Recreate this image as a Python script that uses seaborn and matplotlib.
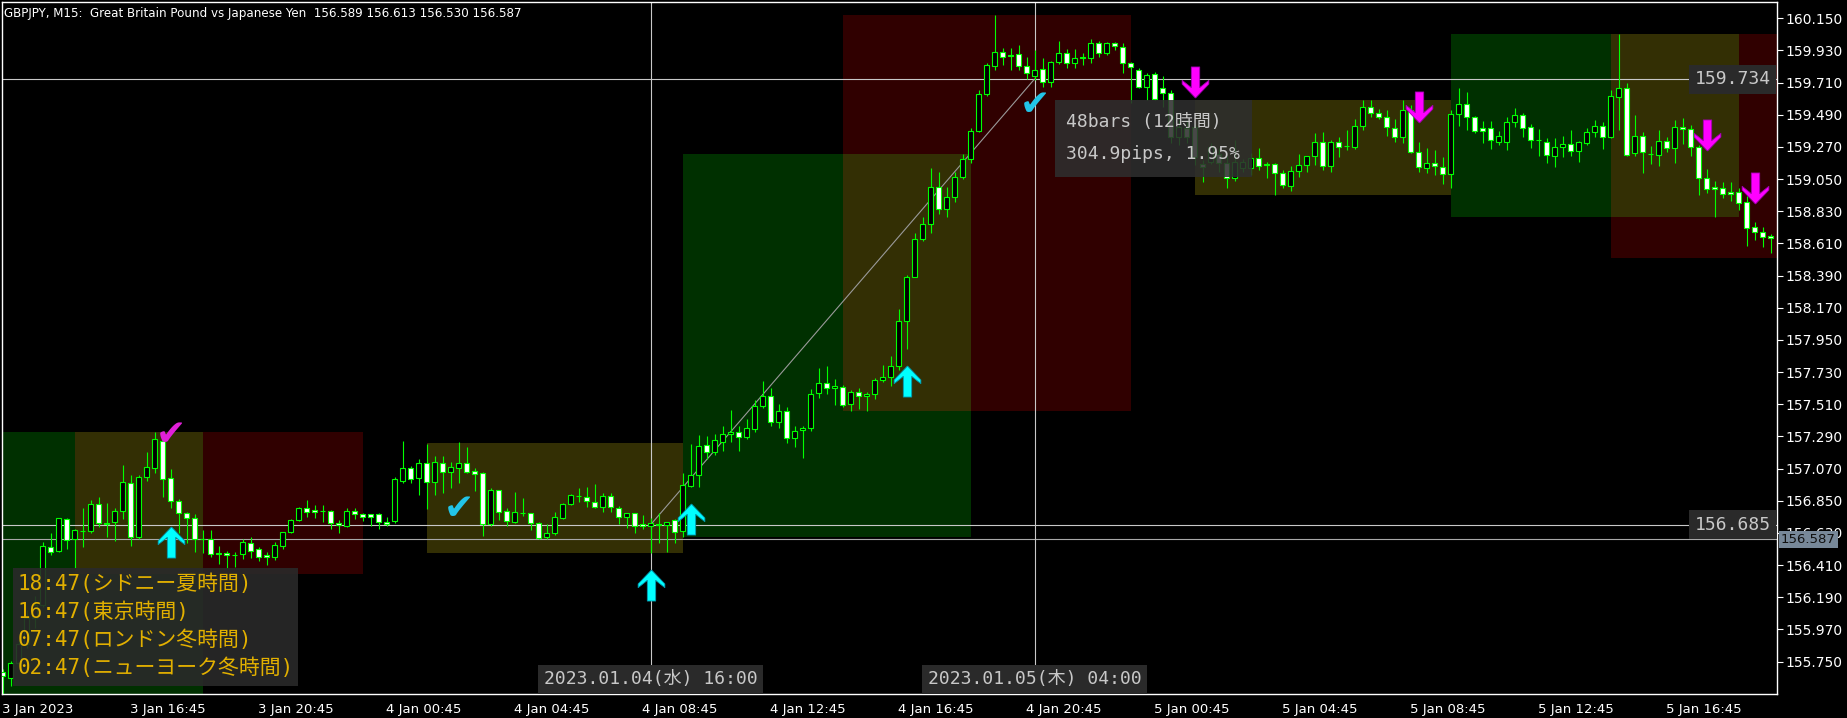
import numpy as np
import pandas as pd
import matplotlib
matplotlib.use('Agg')
import matplotlib.pyplot as plt
import seaborn as sns
from matplotlib.patches import Rectangle
from matplotlib.path import Path
import matplotlib.transforms as mtransforms

# GBPJPY M15, bars 0..221 (3 Jan 12:45 -> 5 Jan 20:00 server time)
opens = [155.68, 155.635, 155.74, 155.87, 156.05, 156.14, 156.536, 156.508, 156.723, 156.588,
         156.64, 156.643, 156.825, 156.70, 156.702, 156.78, 156.969, 156.604, 157.014, 157.071,
         157.261, 157.003, 156.848, 156.764, 156.73, 156.588, 156.586, 156.49, 156.49, 156.478,
         156.483, 156.563, 156.517, 156.479, 156.463, 156.542, 156.634, 156.718, 156.798, 156.787,
         156.78, 156.78, 156.695, 156.677, 156.78, 156.759, 156.757, 156.757, 156.707, 156.713,
         156.987, 157.071, 157.003, 157.106, 156.98, 157.11, 157.049, 157.071, 157.106, 157.053,
         157.037, 156.689, 156.923, 156.78, 156.707, 156.768, 156.764, 156.695, 156.604, 156.627,
         156.734, 156.825, 156.882, 156.878, 156.843, 156.809, 156.885, 156.802, 156.741, 156.764,
         156.689, 156.677, 156.689, 156.684, 156.718, 156.643, 156.953, 157.026, 157.231, 157.181,
         157.254, 157.304, 157.317, 157.283, 157.338, 157.50, 157.568, 157.386, 157.466, 157.276,
         157.333, 157.345, 157.584, 157.657, 157.618, 157.63, 157.509, 157.596, 157.566, 157.58,
         157.675, 157.694, 157.773, 158.081, 158.382, 158.638, 158.74, 158.998, 158.843, 158.929,
         159.066, 159.19, 159.381, 159.63, 159.826, 159.917, 159.90, 159.903, 159.826, 159.757,
         159.80, 159.712, 159.849, 159.91, 159.842, 159.883, 159.876, 159.979, 159.91, 159.979,
         159.956, 159.842, 159.796, 159.678, 159.769, 159.671, 159.637, 159.34, 159.397, 159.409,
         159.15, 159.169, 159.22, 159.158, 159.055, 159.123, 159.123, 159.192, 159.151, 159.151,
         159.089, 159.005, 159.107, 159.146, 159.208, 159.301, 159.142, 159.306, 159.276, 159.272,
         159.415, 159.545, 159.504, 159.477, 159.402, 159.34, 159.522, 159.237, 159.123, 159.162,
         159.135, 159.085, 159.493, 159.561, 159.472, 159.397, 159.397, 159.301, 159.301, 159.438,
         159.488, 159.404, 159.317, 159.306, 159.208, 159.267, 159.288, 159.242, 159.294, 159.37,
         159.415, 159.335, 159.614, 159.671, 159.226, 159.347, 159.222, 159.215, 159.313, 159.26,
         159.404, 159.39, 159.267, 159.055, 158.993, 158.987, 158.959, 158.964, 158.891, 158.72,
         158.686, 158.658]
highs = [155.70, 155.756, 155.90, 156.10, 156.20, 156.565, 156.627, 156.735, 156.735, 156.66,
         156.798, 156.855, 156.873, 156.832, 156.798, 157.094, 157.026, 157.026, 157.186, 157.318,
         157.277, 157.065, 156.859, 156.775, 156.757, 156.65, 156.65, 156.54, 156.506, 156.50,
         156.588, 156.604, 156.536, 156.50, 156.57, 156.638, 156.727, 156.805, 156.855, 156.82,
         156.82, 156.787, 156.718, 156.798, 156.798, 156.768, 156.757, 156.765, 156.74, 157.01,
         157.258, 157.087, 157.133, 157.238, 157.156, 157.156, 157.117, 157.254, 157.22, 157.071,
         157.049, 156.935, 156.923, 156.798, 156.912, 156.866, 156.766, 156.707, 156.689, 156.775,
         156.832, 156.896, 156.935, 156.946, 156.964, 156.90, 156.90, 156.814, 156.768, 156.766,
         156.752, 156.729, 156.768, 156.707, 156.723, 157.037, 157.24, 157.30, 157.292, 157.306,
         157.361, 157.47, 157.361, 157.406, 157.539, 157.668, 157.618, 157.509, 157.488, 157.361,
         157.361, 157.611, 157.755, 157.773, 157.68, 157.641, 157.607, 157.618, 157.596, 157.687,
         157.778, 157.84, 158.159, 158.393, 158.679, 158.788, 159.123, 159.096, 158.998, 159.10,
         159.221, 159.40, 159.66, 159.842, 160.172, 159.944, 159.944, 159.967, 159.887, 159.933,
         159.876, 159.858, 159.995, 159.94, 159.94, 159.91, 160.006, 159.995, 159.99, 159.99,
         159.983, 159.853, 159.808, 159.773, 159.785, 159.755, 159.66, 159.454, 159.454, 159.43,
         159.18, 159.30, 159.26, 159.21, 159.317, 159.19, 159.226, 159.265, 159.169, 159.158,
         159.112, 159.142, 159.221, 159.208, 159.367, 159.374, 159.317, 159.34, 159.386, 159.461,
         159.591, 159.591, 159.527, 159.522, 159.458, 159.591, 159.557, 159.306, 159.26, 159.249,
         159.199, 159.522, 159.671, 159.648, 159.481, 159.447, 159.447, 159.379, 159.477, 159.538,
         159.504, 159.424, 159.392, 159.329, 159.329, 159.345, 159.386, 159.313, 159.402, 159.454,
         159.438, 159.659, 160.042, 159.705, 159.488, 159.37, 159.276, 159.386, 159.34, 159.454,
         159.47, 159.42, 159.283, 159.119, 159.039, 159.032, 159.028, 158.987, 158.934, 158.759,
         158.724, 158.674]
lows = [155.53, 155.585, 155.72, 155.84, 155.98, 156.12, 156.479, 156.50, 156.517, 156.387,
        156.535, 156.63, 156.672, 156.604, 156.577, 156.725, 156.54, 156.59, 156.985, 157.037,
        156.878, 156.798, 156.627, 156.558, 156.497, 156.49, 156.467, 156.417, 156.387, 156.398,
        156.449, 156.456, 156.438, 156.41, 156.445, 156.517, 156.627, 156.71, 156.741, 156.734,
        156.702, 156.66, 156.632, 156.672, 156.723, 156.713, 156.677, 156.66, 156.68, 156.695,
        156.973, 156.969, 156.889, 156.791, 156.889, 156.905, 156.935, 156.969, 157.037, 156.919,
        156.611, 156.68, 156.718, 156.677, 156.70, 156.745, 156.65, 156.586, 156.586, 156.616,
        156.725, 156.82, 156.839, 156.805, 156.803, 156.775, 156.771, 156.689, 156.661, 156.627,
        156.66, 156.49, 156.558, 156.502, 156.558, 156.604, 156.946, 156.946, 157.133, 157.163,
        157.192, 157.254, 157.192, 157.27, 157.322, 157.482, 157.363, 157.345, 157.242, 157.215,
        157.14, 157.33, 157.55, 157.58, 157.504, 157.493, 157.466, 157.475, 157.466, 157.543,
        157.66, 157.634, 157.744, 157.887, 158.378, 158.628, 158.679, 158.811, 158.788, 158.895,
        159.05, 159.16, 159.374, 159.62, 159.796, 159.83, 159.796, 159.796, 159.732, 159.728,
        159.678, 159.678, 159.835, 159.812, 159.807, 159.83, 159.842, 159.883, 159.899, 159.933,
        159.778, 159.568, 159.671, 159.591, 159.591, 159.545, 159.30, 159.283, 159.30, 159.147,
        159.03, 159.15, 159.10, 158.987, 159.04, 159.10, 159.078, 159.112, 159.055, 158.941,
        158.99, 158.97, 159.066, 159.10, 159.146, 159.112, 159.10, 159.203, 159.249, 159.256,
        159.386, 159.477, 159.458, 159.347, 159.306, 159.299, 159.226, 159.10, 159.089, 159.078,
        159.014, 158.987, 159.415, 159.386, 159.363, 159.294, 159.253, 159.283, 159.249, 159.404,
        159.335, 159.26, 159.208, 159.162, 159.13, 159.203, 159.208, 159.169, 159.283, 159.34,
        159.253, 159.328, 159.386, 159.208, 159.21, 159.094, 159.151, 159.14, 159.237, 159.162,
        159.288, 159.208, 158.941, 158.957, 158.793, 158.918, 158.902, 158.838, 158.595, 158.633,
        158.583, 158.542]
closes = [155.65, 155.742, 155.87, 156.05, 156.14, 156.54, 156.50, 156.73, 156.581, 156.65,
          156.645, 156.825, 156.695, 156.688, 156.78, 156.976, 156.604, 157.014, 157.078, 157.27,
          156.996, 156.848, 156.764, 156.73, 156.588, 156.585, 156.483, 156.488, 156.479, 156.476,
          156.565, 156.508, 156.467, 156.463, 156.547, 156.634, 156.718, 156.798, 156.771, 156.771,
          156.778, 156.695, 156.684, 156.78, 156.757, 156.741, 156.741, 156.707, 156.69, 156.996,
          157.071, 156.996, 157.106, 156.98, 157.117, 157.049, 157.078, 157.106, 157.049, 157.03,
          156.689, 156.923, 156.771, 156.711, 156.771, 156.766, 156.695, 156.597, 156.627, 156.741,
          156.825, 156.887, 156.880, 156.848, 156.805, 156.885, 156.805, 156.741, 156.764, 156.677,
          156.677, 156.695, 156.687, 156.707, 156.634, 156.955, 157.026, 157.224, 157.181, 157.265,
          157.304, 157.317, 157.283, 157.345, 157.50, 157.568, 157.386, 157.466, 157.281, 157.329,
          157.345, 157.577, 157.657, 157.618, 157.634, 157.504, 157.596, 157.566, 157.577, 157.675,
          157.694, 157.773, 158.081, 158.382, 158.638, 158.74, 158.998, 158.843, 158.929, 159.066,
          159.185, 159.381, 159.63, 159.83, 159.917, 159.883, 159.892, 159.826, 159.773, 159.794,
          159.712, 159.849, 159.91, 159.842, 159.876, 159.881, 159.979, 159.91, 159.979, 159.963,
          159.846, 159.815, 159.678, 159.762, 159.598, 159.637, 159.34, 159.409, 159.34, 159.204,
          159.13, 159.272, 159.16, 159.055, 159.169, 159.169, 159.192, 159.142, 159.149, 159.089,
          159.01, 159.105, 159.146, 159.208, 159.301, 159.142, 159.301, 159.272, 159.274, 159.415,
          159.545, 159.50, 159.472, 159.404, 159.34, 159.522, 159.237, 159.135, 159.162, 159.14,
          159.085, 159.493, 159.561, 159.472, 159.379, 159.379, 159.317, 159.345, 159.438, 159.488,
          159.397, 159.317, 159.315, 159.215, 159.267, 159.288, 159.242, 159.301, 159.37, 159.415,
          159.335, 159.62, 159.671, 159.215, 159.347, 159.233, 159.220, 159.313, 159.26, 159.404,
          159.39, 159.267, 159.055, 158.98, 158.98, 158.948, 158.948, 158.884, 158.713, 158.686,
          158.656, 158.645]

# session boxes (start bar, end bar, high, low)
green_sess = [(-11, 25, 157.318, 155.50), (85, 121, 159.221, 156.604), (181, 217, 160.042, 158.793)]
red_sess = [(9, 45, 157.318, 156.351), (105, 141, 160.172, 157.466), (201, 237, 160.042, 158.51)]
yellow_sess = [(53, 85, 157.245, 156.49), (149, 181, 159.591, 158.941)]

# signal arrows (bar, price at arrow centre)
up_bars = [21, 81, 86, 113]
up_prices = [156.571, 156.274, 156.725, 157.672]
down_bars = [149, 177, 213, 219]
down_prices = [159.711, 159.54, 159.349, 158.986]
check_bars = [57, 129, 21]
check_prices = [156.794, 159.557, 157.30]
check_cols = ['#22c4e8', '#22c4e8', '#e020d8']

# crosshair / measurement
cross_bars = [81, 129]
cross_prices = [156.685, 159.734]
cross_time_labels = ['2023.01.04(水) 16:00', '2023.01.05(木) 04:00']
bid_price = 156.587

price_ticks = [155.750, 155.970, 156.190, 156.410, 156.630, 156.850, 157.070, 157.290, 157.510,
               157.730, 157.950, 158.170, 158.390, 158.610, 158.830, 159.050, 159.270, 159.490,
               159.710, 159.930, 160.150]
time_tick_bars = [0, 16, 32, 48, 64, 80, 96, 112, 128, 144, 160, 176, 192, 208]
time_tick_labels = ['3 Jan 2023', '3 Jan 16:45', '3 Jan 20:45', '4 Jan 00:45', '4 Jan 04:45',
                    '4 Jan 08:45', '4 Jan 12:45', '4 Jan 16:45', '4 Jan 20:45', '5 Jan 00:45',
                    '5 Jan 04:45', '5 Jan 08:45', '5 Jan 12:45', '5 Jan 16:45']
session_lines = ['18:47(シドニー夏時間)', '16:47(東京時間)', '07:47(ロンドン冬時間)', '02:47(ニューヨーク冬時間)']
measure_lines = ['48bars (12時間)', '304.9pips, 1.95%']
title = 'GBPJPY, M15:  Great Britain Pound vs Japanese Yen  156.589 156.613 156.530 156.587'

df = pd.DataFrame({'open': opens, 'high': highs, 'low': lows, 'close': closes})
df['bar'] = np.arange(len(df))

sns.set_theme(style='dark', rc={'axes.facecolor': 'black', 'figure.facecolor': 'black',
                                'axes.edgecolor': 'white', 'axes.grid': False})
narrow = ['Liberation Sans Narrow', 'DejaVu Sans']
mono = ['DejaVu Sans Mono', 'Noto Sans CJK JP']
plt.rcParams['font.family'] = ['DejaVu Sans', 'Noto Sans CJK JP']

W, H = 1847, 718
AX_L, AX_R, AX_T, AX_B = 1.5, 1777.0, 1.5, 693.5
fig = plt.figure(figsize=(W / 100, H / 100), dpi=100)
ax = fig.add_axes([AX_L / W, (H - AX_B) / H, (AX_R - AX_L) / W, (AX_B - AX_T) / H])
ax.set_facecolor('black')

def axfrac(xp, yp):
    return ((xp - AX_L) / (AX_R - AX_L), (AX_B - yp) / (AX_B - AX_T))

# session rectangles
GREEN, RED, OLIVE = '#003000', '#300000', '#332f04'
for s, e, hi, lo in green_sess:
    ax.add_patch(Rectangle((s, lo), e - s, hi - lo, fc=GREEN, ec='none', zorder=0.5))
for s, e, hi, lo in red_sess:
    ax.add_patch(Rectangle((s, lo), e - s, hi - lo, fc=RED, ec='none', zorder=0.5))
for s, e, hi, lo in yellow_sess:
    ax.add_patch(Rectangle((s, lo), e - s, hi - lo, fc=OLIVE, ec='none', zorder=0.6))
# overlapping green/red areas mix to olive
for gs, ge, gh, gl in green_sess:
    for rs, re_, rh, rl in red_sess:
        x0, x1 = max(gs, rs), min(ge, re_)
        y0, y1 = max(gl, rl), min(gh, rh)
        if x1 > x0 and y1 > y0:
            ax.add_patch(Rectangle((x0, y0), x1 - x0, y1 - y0, fc=OLIVE, ec='none', zorder=0.7))

# reference lines
for p in [cross_prices[0], cross_prices[1]]:
    ax.axhline(p, color='#c8c8c8', lw=0.8, zorder=1)
ax.axhline(bid_price, color='#a8a8a8', lw=0.8, zorder=1)
for b in cross_bars:
    ax.axvline(b, color='#c8c8c8', lw=0.8, zorder=1)
sns.lineplot(x=cross_bars, y=cross_prices, color='#9a9a9a', lw=0.8, ax=ax, zorder=1.2)

# candles
LIME = '#00ff00'
bull = df['close'] >= df['open']
ax.vlines(df['bar'], df['low'], df['high'], color=LIME, lw=0.8, zorder=2)
ax.bar(df['bar'], (df['close'] - df['open']).abs(), bottom=df[['open', 'close']].min(axis=1),
       width=0.56, color=np.where(bull, 'black', 'white'), edgecolor=LIME, linewidth=0.8, zorder=3)

# arrows
up_arrow = Path([(0, 1), (0.86, 0.1), (0.86, -0.14), (0.27, 0.33), (0.27, -1), (-0.27, -1),
                 (-0.27, 0.33), (-0.86, -0.14), (-0.86, 0.1), (0, 1)])
down_arrow = Path([(x, -y) for x, y in up_arrow.vertices])
ax.scatter(up_bars, up_prices, marker=up_arrow, s=500, c='#00ffff', edgecolors='#0098b0',
           linewidths=0.6, zorder=4)
ax.scatter(down_bars, down_prices, marker=down_arrow, s=500, c='#ff00ff', edgecolors='#a000b0',
           linewidths=0.6, zorder=4)
for b, p, c in zip(check_bars, check_prices, check_cols):
    ax.text(b, p, '✔', color=c, fontsize=26, ha='center', va='center', zorder=4,
            family=['DejaVu Sans'])

# session time box
x0, y0 = axfrac(13, 686)
x1, y1 = axfrac(298, 568)
ax.add_patch(Rectangle((x0, y0), x1 - x0, y1 - y0, transform=ax.transAxes, fc='#2a2a2a',
                       ec='none', alpha=0.9, zorder=6))
for k, line in enumerate(session_lines):
    tx, ty = axfrac(18, 584 + 28 * k)
    ax.text(tx, ty, line, transform=ax.transAxes, color='#e2b000', fontsize=15,
            family=mono, ha='left', va='center', zorder=7)

# measurement box
x0, y0 = axfrac(1055, 177)
x1, y1 = axfrac(1252, 100)
ax.add_patch(Rectangle((x0, y0), x1 - x0, y1 - y0, transform=ax.transAxes, fc='#2e2e2e',
                       ec='none', alpha=0.88, zorder=6))
for k, line in enumerate(measure_lines):
    tx, ty = axfrac(1066, 122 + 32 * k)
    ax.text(tx, ty, line, transform=ax.transAxes, color='#c8c8c8', fontsize=13,
            family=mono, ha='left', va='center', zorder=7)

# price labels on the chart
ytrans = mtransforms.blended_transform_factory(ax.transAxes, ax.transData)
xtrans = mtransforms.blended_transform_factory(ax.transData, ax.transAxes)
for p in cross_prices:
    ax.text(axfrac(1771, 0)[0], p, f'{p:.3f}', transform=ytrans, ha='right', va='center',
            color='#c8c8c8', fontsize=13, family=mono, zorder=8,
            bbox=dict(boxstyle='square,pad=0.3', fc='#2a2a2a', ec='none'))
ax.text(axfrac(1781, 0)[0], bid_price, f'{bid_price:.3f}', transform=ytrans, ha='left',
        va='center', color='#111111', fontsize=9.5, family=narrow, zorder=9, clip_on=False,
        bbox=dict(boxstyle='square,pad=0.15', fc='#778899', ec='none'))
for b, lbl in zip(cross_bars, cross_time_labels):
    ax.text(b, axfrac(0, 679.5)[1], lbl, transform=xtrans, ha='center', va='center',
            color='#c8c8c8', fontsize=13, family=mono, zorder=8,
            bbox=dict(boxstyle='square,pad=0.3', fc='#2a2a2a', ec='none'))

# axes
ax.set_xlim(-0.125, (AX_R - 2.5) / 8)
ax.set_ylim(160.275 - AX_B / 146.2, 160.275 - AX_T / 146.2)
ax.yaxis.tick_right()
ax.set_yticks(price_ticks)
ax.set_yticklabels([f'{v:.3f}' for v in price_ticks])
ax.set_xticks(time_tick_bars)
ax.set_xticklabels(time_tick_labels)
ax.tick_params(axis='both', direction='out', length=4, width=0.8, color='white',
               labelcolor='white', labelsize=10, pad=2)
ax.tick_params(axis='x', labelsize=9.5, pad=3)
ax.tick_params(axis='y', right=True, left=False)
for lbl in ax.get_xticklabels():
    lbl.set_ha('left')
    lbl.set_fontfamily(narrow)
for lbl in ax.get_yticklabels():
    lbl.set_fontfamily(narrow)
for sp in ax.spines.values():
    sp.set_color('white')
    sp.set_linewidth(1)
ax.set_xlabel('')
ax.set_ylabel('')

fig.text(4 / W, 1 - 13 / H, title, color='white', fontsize=8.6, family=narrow,
         ha='left', va='center')

fig.savefig('out.png', dpi=100, facecolor='black')
